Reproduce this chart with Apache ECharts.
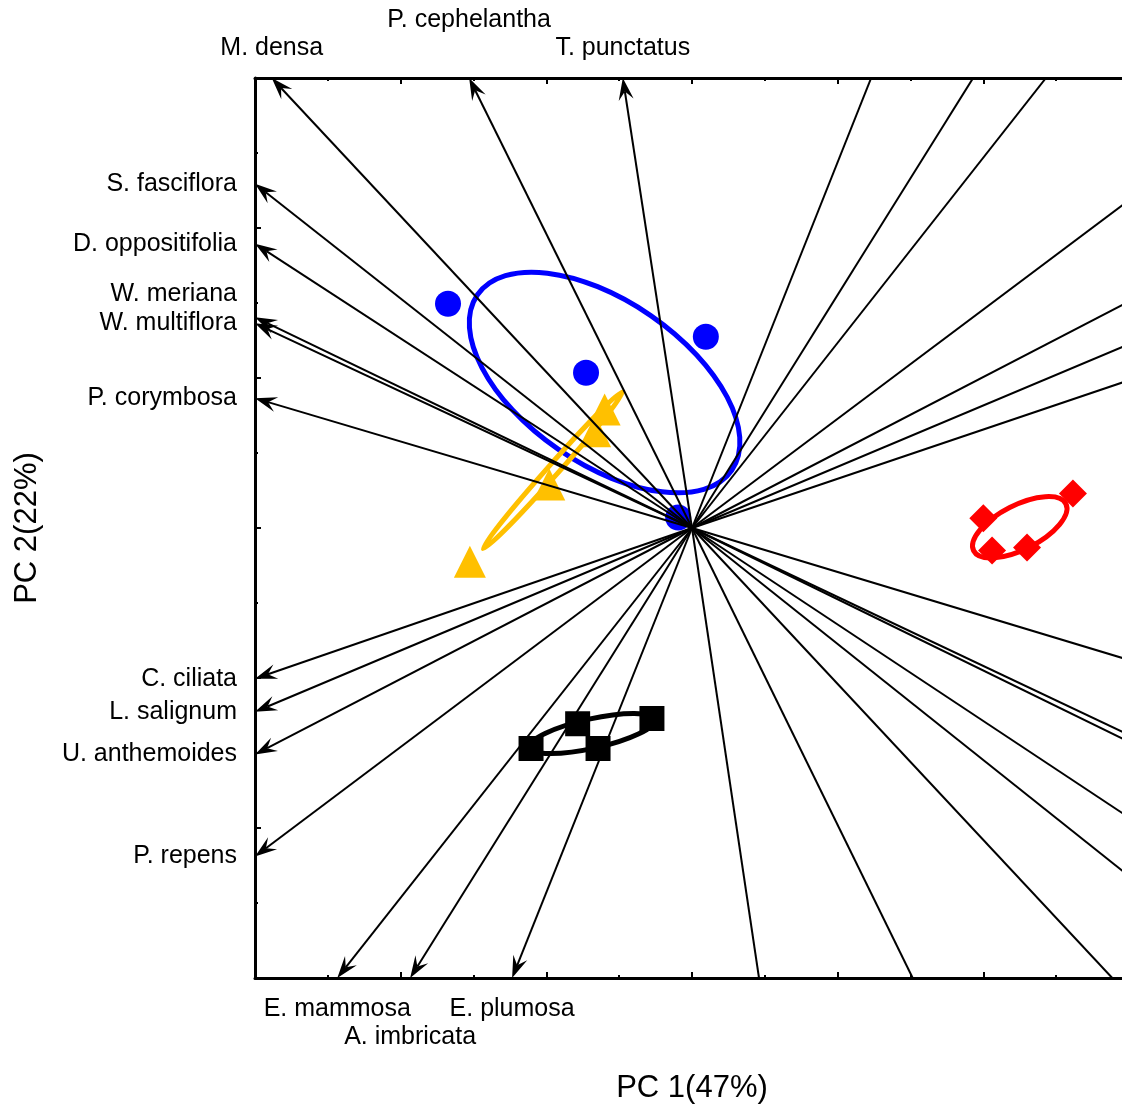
<!DOCTYPE html>
<html>
<head>
<meta charset="utf-8">
<script src="https://cdn.jsdelivr.net/npm/echarts@6/dist/echarts.min.js"></script>
<style>
  html, body { margin: 0; padding: 0; background: #ffffff; }
  #chart { width: 1122px; height: 1106px; }
</style>
</head>
<body>
<div id="chart"></div>
<script>
// Labelled species loadings (PC1, PC2); each arrow ends on the plot frame
const speciesNames = ['M. densa', 'P. cephelantha', 'T. punctatus',
  'S. fasciflora', 'D. oppositifolia', 'W. meriana', 'W. multiflora', 'P. corymbosa',
  'C. ciliata', 'L. salignum', 'U. anthemoides', 'P. repens',
  'E. mammosa', 'A. imbricata', 'E. plumosa'];
const speciesPC1 = [-5.77, -3.06, -0.95, -6, -6, -6, -6, -6, -6, -6, -6, -6, -4.87, -3.87, -2.47];
const speciesPC2 = [6, 6, 6, 4.59, 3.79, 2.81, 2.73, 1.73, -2.01, -2.45, -3.02, -4.38, -6, -6, -6];

// Remaining loadings, drawn up to where they leave the frame
const rayPC1 = [2.46, 3.86, 4.86, 6, 6, 6, 6, 6, 6, 6, 6, 6, 0.92, 3.03, 5.77];
const rayPC2 = [6, 6, 6, 4.37, 3.02, 2.45, 1.97, -1.76, -2.76, -2.85, -3.86, -4.64, -6, -6, -6];

// Site scores per group
const circlePC1 = [-3.35, -1.455, 0.19, -0.19];
const circlePC2 = [2.99, 2.07, 2.55, 0.14];
const trianglePC1 = [-3.05, -1.96, -1.33, -1.20];
const trianglePC2 = [-0.45, 0.58, 1.29, 1.58];
const diamondPC1 = [4.00, 4.12, 4.60, 5.23];
const diamondPC2 = [0.13, -0.30, -0.26, 0.46];
const squarePC1 = [-2.21, -1.57, -1.29, -0.55];
const squarePC2 = [-2.94, -2.61, -2.94, -2.54];

// Group ellipses: [centre PC1, centre PC2, semi-major, semi-minor, angle in degrees]
const ellipseCircle = [-1.20, 1.94, 2.09, 1.10, -34.6];
const ellipseTriangle = [-1.91, 0.77, 1.42, 0.075, 48.4];
const ellipseDiamond = [4.50, 0.01, 0.70, 0.30, 27];
const ellipseSquare = [-1.37, -2.74, 0.87, 0.20, 12.6];

// Tick values of both principal axes
const axisMin = -6;
const axisMax = 6;
const axisStep = 2;

const FONT = '"Liberation Sans", Arial, Helvetica, sans-serif';
const BLUE = '#0000ff';
const ORANGE = '#ffc000';
const RED = '#ff0000';

function zip(a, b) { return a.map((v, i) => [v, b[i]]); }

// Extra vertical room for labels that would otherwise collide
const labelNudge = { 'P. cephelantha': 28, 'A. imbricata': 28, 'W. meriana': 23 };

function axisCommon(extra) {
  return Object.assign({
    type: 'value',
    min: axisMin,
    max: axisMax,
    interval: axisStep,
    axisLine: { show: true, onZero: false, lineStyle: { color: '#000', width: 3 } },
    axisTick: { show: true, inside: true, length: 6, lineStyle: { color: '#000', width: 2 } },
    minorTick: { show: true, splitNumber: 2, length: 3, lineStyle: { color: '#000', width: 2 } },
    axisLabel: { show: false },
    splitLine: { show: false },
    minorSplitLine: { show: false }
  }, extra);
}

function ellipseSeries(params, color, width) {
  return {
    type: 'custom',
    coordinateSystem: 'cartesian2d',
    clip: false,
    z: 1,
    silent: true,
    data: [params],
    encode: { x: 0, y: 1 },
    renderItem: function (p, api) {
      const c = api.coord([api.value(0), api.value(1)]);
      const s = api.size([1, 1]);
      const k = (s[0] + s[1]) / 2;
      return {
        type: 'ellipse',
        x: c[0],
        y: c[1],
        rotation: api.value(4) * Math.PI / 180,
        shape: { cx: 0, cy: 0, rx: api.value(2) * k, ry: api.value(3) * k },
        style: { fill: 'none', stroke: color, lineWidth: width }
      };
    }
  };
}

function scatterSeries(x, y, symbol, size, color) {
  return {
    type: 'scatter',
    z: 2,
    silent: true,
    symbol: symbol,
    symbolSize: size,
    itemStyle: { color: color, opacity: 1 },
    data: zip(x, y)
  };
}

const chart = echarts.init(document.getElementById('chart'), null, { renderer: 'canvas' });

chart.setOption({
  animation: false,
  backgroundColor: '#ffffff',
  grid: { left: 255, top: 78, width: 874, height: 900, containLabel: false, outerBoundsMode: 'none' },
  xAxis: [
    axisCommon({
      position: 'bottom',
      name: 'PC 1(47%)',
      nameLocation: 'middle',
      nameGap: 95,
      nameTextStyle: { fontFamily: FONT, fontSize: 31, color: '#000' }
    }),
    axisCommon({ position: 'top' })
  ],
  yAxis: [
    axisCommon({
      position: 'left',
      name: 'PC 2(22%)',
      nameLocation: 'middle',
      nameGap: 212,
      nameTextStyle: { fontFamily: FONT, fontSize: 31, color: '#000' }
    }),
    axisCommon({ position: 'right' })
  ],
  series: [
    ellipseSeries(ellipseCircle, BLUE, 5),
    ellipseSeries(ellipseTriangle, ORANGE, 5),
    ellipseSeries(ellipseDiamond, RED, 5),
    ellipseSeries(ellipseSquare, '#000', 5),
    scatterSeries(circlePC1, circlePC2, 'circle', 26, BLUE),
    scatterSeries(trianglePC1, trianglePC2, 'triangle', 32, ORANGE),
    scatterSeries(diamondPC1, diamondPC2, 'diamond', 28, RED),
    scatterSeries(squarePC1, squarePC2, 'rect', 25, '#000'),
    {
      // loadings that run off the frame
      type: 'custom',
      coordinateSystem: 'cartesian2d',
      clip: true,
      z: 3,
      silent: true,
      data: zip(rayPC1, rayPC2),
      encode: { x: 0, y: 1 },
      renderItem: function (p, api) {
        const p0 = api.coord([0, 0]);
        const p1 = api.coord([api.value(0), api.value(1)]);
        return {
          type: 'line',
          shape: { x1: p0[0], y1: p0[1], x2: p1[0], y2: p1[1] },
          style: { stroke: '#000', lineWidth: 2 }
        };
      }
    },
    {
      // labelled loading arrows
      type: 'custom',
      coordinateSystem: 'cartesian2d',
      clip: false,
      z: 4,
      silent: true,
      data: zip(speciesPC1, speciesPC2),
      encode: { x: 0, y: 1 },
      renderItem: function (p, api) {
        const vx = api.value(0), vy = api.value(1);
        const name = speciesNames[p.dataIndex];
        const p0 = api.coord([0, 0]);
        const p1 = api.coord([vx, vy]);
        const dx = p1[0] - p0[0], dy = p1[1] - p0[1];
        const len = Math.sqrt(dx * dx + dy * dy);
        const ux = dx / len, uy = dy / len;
        const nx = -uy, ny = ux;
        const L = 22, W = 7.5;
        const bx = p1[0] - L * ux, by = p1[1] - L * uy;
        const notch = [p1[0] - 0.62 * L * ux, p1[1] - 0.62 * L * uy];
        const nudge = labelNudge[name] || 0;
        let tx, ty, align;
        if (vx <= axisMin + 0.01) {
          tx = p1[0] - 18; ty = p1[1] - nudge; align = 'right';
        } else if (vy >= axisMax - 0.01) {
          tx = p1[0]; ty = p1[1] - 30 - nudge; align = 'center';
        } else {
          tx = p1[0]; ty = p1[1] + 31 + nudge; align = 'center';
        }
        return {
          type: 'group',
          children: [
            {
              type: 'line',
              shape: { x1: p0[0], y1: p0[1], x2: notch[0], y2: notch[1] },
              style: { stroke: '#000', lineWidth: 2 }
            },
            {
              type: 'polygon',
              shape: { points: [
                [p1[0], p1[1]],
                [bx + W * nx, by + W * ny],
                notch,
                [bx - W * nx, by - W * ny]
              ] },
              style: { fill: '#000', stroke: 'none' }
            },
            {
              type: 'text',
              style: {
                text: name,
                x: tx,
                y: ty,
                align: align,
                verticalAlign: 'middle',
                fill: '#000',
                font: '25px ' + FONT
              }
            }
          ]
        };
      }
    }
  ]
});
</script>
</body>
</html>
